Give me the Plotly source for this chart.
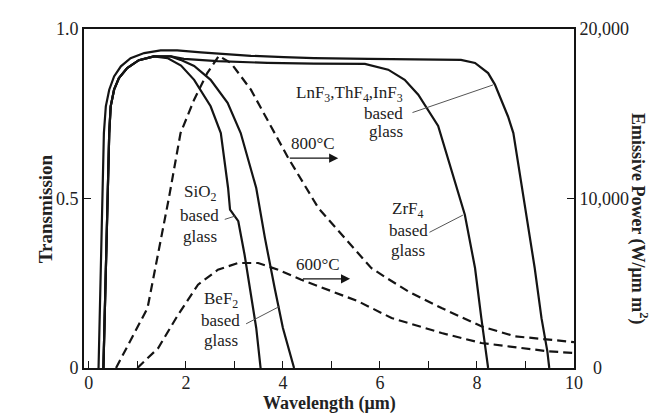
import plotly.graph_objects as go

# ---------------- data ----------------
# Transmission curves (left axis, 0..1), wavelength in micrometres
sio2_x = [0.30, 0.42, 0.45, 0.52, 0.62, 0.79, 1.03, 1.34, 1.62, 1.90, 2.17, 2.51, 2.72, 2.87, 2.91, 3.08, 3.21, 3.35, 3.45, 3.54]
sio2_y = [0.0, 0.693, 0.772, 0.821, 0.855, 0.885, 0.908, 0.919, 0.914, 0.892, 0.850, 0.772, 0.693, 0.531, 0.467, 0.433, 0.334, 0.206, 0.118, 0.0]

bef2_x = [0.30, 0.42, 0.45, 0.52, 0.62, 0.79, 1.03, 1.34, 1.69, 1.89, 2.17, 2.51, 2.86, 3.13, 3.45, 3.63, 3.83, 4.00, 4.23]
bef2_y = [0.0, 0.693, 0.772, 0.821, 0.855, 0.885, 0.908, 0.919, 0.919, 0.909, 0.891, 0.850, 0.782, 0.693, 0.531, 0.383, 0.236, 0.118, 0.0]

zrf4_x = [0.30, 0.42, 0.45, 0.52, 0.62, 0.79, 1.03, 1.34, 1.69, 1.96, 2.65, 3.68, 4.64, 5.69, 6.17, 6.51, 6.79, 6.99, 7.20, 7.75, 7.96, 8.09, 8.23]
zrf4_y = [0.0, 0.693, 0.772, 0.821, 0.855, 0.885, 0.908, 0.919, 0.919, 0.912, 0.905, 0.900, 0.898, 0.897, 0.880, 0.850, 0.806, 0.762, 0.714, 0.452, 0.295, 0.147, 0.0]

lnf3_x = [0.20, 0.31, 0.35, 0.42, 0.52, 0.66, 0.86, 1.14, 1.48, 1.82, 2.31, 2.79, 3.34, 4.02, 4.64, 5.76, 6.58, 7.67, 7.96, 8.23, 8.37, 8.50, 8.64, 8.75, 9.19, 9.33, 9.45, 9.49]
lnf3_y = [0.0, 0.693, 0.772, 0.821, 0.860, 0.890, 0.914, 0.929, 0.937, 0.937, 0.931, 0.926, 0.921, 0.917, 0.914, 0.912, 0.910, 0.909, 0.900, 0.870, 0.836, 0.791, 0.742, 0.693, 0.295, 0.147, 0.050, 0.0]

# Black-body emissive power (right axis, W/um m^2)
t800_x = [0.56, 1.21, 1.65, 1.89, 2.17, 2.44, 2.68, 2.93, 3.34, 3.82, 4.11, 4.73, 5.82, 6.17, 6.58, 7.27, 8.09, 8.78, 9.47, 10.0]
t800_y = [0, 3540, 10030, 13860, 15830, 17400, 18410, 17990, 16420, 13860, 12390, 9440, 5900, 5250, 4525, 3540, 2460, 1870, 1670, 1530]

t600_x = [1.00, 1.43, 1.84, 2.25, 2.66, 3.08, 3.49, 3.90, 4.38, 5.00, 5.55, 6.24, 7.27, 8.09, 8.92, 9.47, 10.0]
t600_y = [0, 1180, 3145, 4914, 5800, 6195, 6195, 5800, 5209, 4525, 3935, 2950, 2065, 1475, 1180, 985, 885]

x_tick_vals = [0, 2, 4, 6, 8, 10]
x_tick_text = ["0", "2", "4", "6", "8", "10"]
x_minor_vals = [1, 3, 5, 7, 9]
y_tick_vals = [0, 0.5, 1.0]
y_tick_text = ["0", "0.5", "1.0"]
y2_tick_vals = [0, 10000, 20000]
y2_tick_text = ["\u00a0\u00a0\u00a00", "10,000", "20,000"]

# ---------------- figure ----------------
INK = "#141414"
FONT = "Liberation Serif"

fig = go.Figure()
for xs, ys, name in [(sio2_x, sio2_y, "SiO2"), (bef2_x, bef2_y, "BeF2"),
                     (zrf4_x, zrf4_y, "ZrF4"), (lnf3_x, lnf3_y, "LnF3")]:
    fig.add_trace(go.Scatter(x=xs, y=ys, mode="lines", name=name,
                             line=dict(color=INK, width=2.2), hoverinfo="skip"))
for xs, ys, name in [(t800_x, t800_y, "800°C"), (t600_x, t600_y, "600°C")]:
    fig.add_trace(go.Scatter(x=xs, y=ys, mode="lines", name=name, yaxis="y2",
                             line=dict(color=INK, width=2.2, dash="9px,5px"),
                             hoverinfo="skip"))

axis_common = dict(showline=True, linewidth=2, linecolor=INK, showgrid=False,
                   zeroline=False, ticks="inside", ticklen=7, tickwidth=1.3,
                   tickcolor=INK, tickfont=dict(family=FONT, size=18, color="#222"))

fig.update_layout(
    width=668, height=418,
    margin=dict(l=76, r=102, t=21, b=58),
    paper_bgcolor="white", plot_bgcolor="white", showlegend=False,
    font=dict(family=FONT, size=18, color="#222"),
    xaxis=dict(range=[-0.1, 10], tickmode="array", tickvals=x_tick_vals,
               ticktext=x_tick_text, mirror=True, ticklabelstandoff=-3,
               minor=dict(tickvals=x_minor_vals, ticks="inside", ticklen=7,
                          tickwidth=1.3, tickcolor=INK),
               **axis_common),
    yaxis=dict(range=[0, 1], tickmode="array", tickvals=y_tick_vals,
               ticktext=y_tick_text, mirror=True, **axis_common),
    yaxis2=dict(range=[0, 20000], overlaying="y", side="right",
                tickmode="array", tickvals=y2_tick_vals, ticktext=y2_tick_text,
                **axis_common),
)

ann = []
# axis titles
ann.append(dict(text="<b>Transmission</b>", xref="paper", yref="paper",
                x=-0.104, y=0.47, textangle=-90, showarrow=False,
                font=dict(family=FONT, size=19, color="#222")))
ann.append(dict(text="<b>Emissive Power (W/μm m<sup>2</sup>)</b>", xref="paper",
                yref="paper", x=1.161, y=0.44, textangle=90, showarrow=False,
                font=dict(family=FONT, size=18, color="#222")))
ann.append(dict(text="<b>Wavelength (μm)</b>", xref="paper", yref="paper",
                x=0.5, y=-0.142, showarrow=False,
                font=dict(family=FONT, size=18, color="#222")))

def label_block(lines, x, ys, xanchor="center"):
    for t, yy in zip(lines, ys):
        ann.append(dict(text=t, x=x, y=yy, xref="x", yref="y", showarrow=False,
                        xanchor=xanchor, yanchor="middle",
                        font=dict(family=FONT, size=17, color="#222")))

label_block(["LnF<sub>3</sub>,ThF<sub>4</sub>,InF<sub>3</sub>", "based", "glass"],
            6.52, [0.807, 0.752, 0.697], xanchor="right")
label_block(["SiO<sub>2</sub>", "based", "glass"], 2.29, [0.516, 0.451, 0.389])
label_block(["BeF<sub>2</sub>", "based", "glass"], 2.72, [0.201, 0.139, 0.080])
label_block(["ZrF<sub>4</sub>", "based", "glass"], 6.58, [0.466, 0.407, 0.348])
label_block(["800°C"], 4.62, [0.661])
label_block(["600°C"], 4.72, [0.304])

# leader lines from labels to curves
for (tx, ty, hx, hy) in [(6.64, 0.752, 8.33, 0.835), (6.99, 0.398, 7.71, 0.451),
                         (2.77, 0.437, 3.01, 0.448), (3.21, 0.128, 3.935, 0.182)]:
    ann.append(dict(text="", x=hx, y=hy, ax=tx, ay=ty, xref="x", yref="y",
                    axref="x", ayref="y", showarrow=True, arrowhead=0,
                    arrowwidth=1, arrowcolor="#555", standoff=0, startstandoff=0))

# temperature arrows
for (tx, hx, yy) in [(4.11, 5.14, 0.619), (4.38, 5.385, 0.263)]:
    ann.append(dict(text="", x=hx, y=yy, ax=tx, ay=yy, xref="x", yref="y",
                    axref="x", ayref="y", showarrow=True, arrowhead=2,
                    arrowsize=1.3, arrowwidth=1.4, arrowcolor=INK,
                    standoff=0, startstandoff=0))

fig.update_layout(annotations=ann)
fig.write_html("out.html")
